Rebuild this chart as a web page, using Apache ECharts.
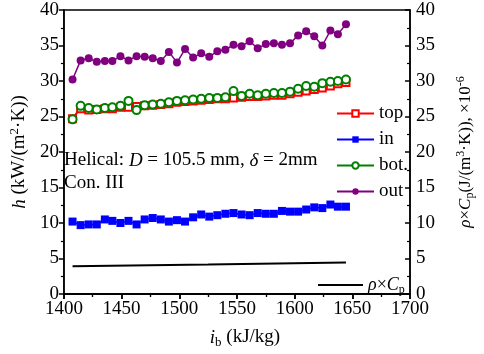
<!DOCTYPE html>
<html>
<head>
<meta charset="utf-8">
<script src="https://cdn.jsdelivr.net/npm/echarts@6/dist/echarts.min.js"></script>
<style>
  html, body { margin: 0; padding: 0; background: #fff; }
  #main { width: 484px; height: 354px; }
</style>
</head>
<body>
<div id="main"></div>
<script>
// enthalpy i_b (kJ/kg), same for all four wall positions
const ib = [1407.5, 1414.5, 1421.5, 1428.5, 1435.5, 1442, 1449, 1456, 1463, 1470,
  1477, 1484, 1491, 1498, 1505, 1512, 1519, 1526, 1533, 1540,
  1547, 1554, 1561, 1568, 1575, 1582, 1589, 1596, 1603, 1610,
  1617, 1624, 1631, 1637.5, 1644.5]

const hTop = [24.7, 26.1, 25.9, 26.0, 26.1, 26.1, 26.3, 26.3, 26.4, 26.5,
  26.6, 26.7, 26.8, 27.0, 27.1, 27.2, 27.3, 27.4, 27.5, 27.5,
  27.6, 27.7, 27.8, 27.8, 27.9, 28.0, 28.0, 28.2, 28.4, 28.6,
  28.8, 29.0, 29.3, 29.6, 29.8]
const hIn = [10.2, 9.7, 9.8, 9.8, 10.5, 10.3, 10.0, 10.3, 9.8, 10.5,
  10.7, 10.5, 10.2, 10.4, 10.2, 10.8, 11.2, 10.9, 11.1, 11.3,
  11.4, 11.2, 11.1, 11.4, 11.3, 11.3, 11.7, 11.6, 11.6, 11.9,
  12.2, 12.1, 12.6, 12.3, 12.3]
const hBot = [24.6, 26.5, 26.2, 26.0, 26.2, 26.3, 26.5, 27.2, 25.9, 26.6,
  26.7, 26.8, 27.0, 27.2, 27.3, 27.4, 27.5, 27.6, 27.6, 27.7,
  28.6, 27.9, 28.2, 28.0, 28.2, 28.3, 28.3, 28.5, 28.9, 29.3,
  29.2, 29.7, 29.9, 30.0, 30.2]
const hOut = [30.2, 32.9, 33.2, 32.7, 32.8, 32.8, 33.5, 32.9, 33.5, 33.4,
  33.2, 32.8, 34.1, 32.6, 34.5, 33.3, 33.9, 33.4, 34.2, 34.4,
  35.1, 34.9, 35.6, 34.6, 35.2, 35.3, 35.1, 35.3, 36.4, 37.0,
  36.3, 35.0, 37.1, 36.6, 38.0]

// rho*Cp (x1e-6), right axis
const ibRho = [1407.5, 1525, 1644.5]
const rhoCp = [3.9, 4.15, 4.45]

const xTicks = [1400, 1450, 1500, 1550, 1600, 1650, 1700]
const yTicks = [0, 5, 10, 15, 20, 25, 30, 35, 40]

const font = "'Liberation Serif', 'Times New Roman', serif"
const pairs = (xs, ys) => xs.map((x, i) => [x, ys[i]])

let myChart = echarts.init(document.getElementById("main"))
myChart.setOption({
  animation: false,
  textStyle: { fontFamily: font, color: "#000" },
  grid: {
    left: 56, right: 68, top: 10, bottom: 55,
    show: true, borderColor: "#000", borderWidth: 1.5,
  },
  legend: [
    {
      orient: "vertical",
      left: 331, top: 99,
      itemWidth: 37, itemHeight: 8, itemGap: 7,
      textStyle: { fontFamily: font, fontSize: 19, color: "#000" },
      data: ["top", "in", "bot.", "out"],
    },
    {
      left: 313, top: 271,
      itemWidth: 45, itemHeight: 2, itemGap: 0,
      textStyle: {
        fontFamily: font, fontSize: 18, color: "#000",
        rich: {
          i: { fontFamily: font, fontSize: 18, fontStyle: "italic" },
          s: { fontFamily: font, fontSize: 12, padding: [10, 0, 0, 0] },
        },
      },
      formatter: () => "{i|ρ}×{i|C}{s|p}",
      data: [{ name: "rho", icon: "rect" }],
    },
  ],
  xAxis: [
    {
      type: "value",
      min: xTicks[0], max: xTicks[xTicks.length - 1], interval: 50,
      name: "{i|i}{s|b} (kJ/kg)",
      nameLocation: "middle", nameGap: 32,
      nameTextStyle: {
        fontFamily: font, fontSize: 19, color: "#000",
        padding: [0, 0, 0, 16],
        rich: {
          i: { fontFamily: font, fontSize: 19, fontStyle: "italic" },
          s: { fontFamily: font, fontSize: 13, padding: [10, 0, 0, 0] },
        },
      },
      axisLine: { onZero: false, lineStyle: { color: "#000", width: 1.5 } },
      axisTick: { inside: false, length: 5, lineStyle: { color: "#000", width: 1.5 } },
      minorTick: { show: true, splitNumber: 2, length: 3, lineStyle: { color: "#000", width: 1.2 } },
      axisLabel: { fontFamily: font, fontSize: 19, color: "#000", margin: 6, formatter: (v) => String(v) },
      splitLine: { show: false },
    },
    {
      type: "value", position: "top",
      min: xTicks[0], max: xTicks[xTicks.length - 1], interval: 50,
      axisLine: { show: true, lineStyle: { color: "#000", width: 1.5 } },
      axisTick: { inside: true, length: 5, lineStyle: { color: "#000", width: 1.5 } },
      minorTick: { show: true, splitNumber: 2, length: 3, lineStyle: { color: "#000", width: 1.2 } },
      axisLabel: { show: false },
      splitLine: { show: false },
    },
  ],
  yAxis: [
    {
      type: "value",
      min: yTicks[0], max: yTicks[yTicks.length - 1], interval: 5,
      name: "{i|h} (kW/(m{sup|2}·K))",
      nameLocation: "middle", nameRotate: 90, nameGap: 32,
      nameTextStyle: {
        fontFamily: font, fontSize: 19, color: "#000",
        rich: {
          i: { fontFamily: font, fontSize: 19, fontStyle: "italic" },
          sup: { fontFamily: font, fontSize: 13, padding: [0, 0, 10, 0] },
        },
      },
      axisLine: { show: true, lineStyle: { color: "#000", width: 1.5 } },
      axisTick: { inside: false, length: 5, lineStyle: { color: "#000", width: 1.5 } },
      minorTick: { show: true, splitNumber: 2, length: 3, lineStyle: { color: "#000", width: 1.2 } },
      axisLabel: { fontFamily: font, fontSize: 19, color: "#000", margin: 5 },
      splitLine: { show: false },
    },
    {
      type: "value", position: "right",
      min: yTicks[0], max: yTicks[yTicks.length - 1], interval: 5,
      name: "{i|ρ}×{i|C}{sub|p}(J/(m{sup|3}·K)), ×10{sup|-6}",
      nameLocation: "middle", nameRotate: 90, nameGap: 45,
      nameTextStyle: {
        fontFamily: font, fontSize: 17, color: "#000",
        rich: {
          i: { fontFamily: font, fontSize: 17, fontStyle: "italic" },
          sub: { fontFamily: font, fontSize: 12, padding: [9, 0, 0, 0] },
          sup: { fontFamily: font, fontSize: 12, padding: [0, 0, 9, 0] },
        },
      },
      axisLine: { show: true, lineStyle: { color: "#000", width: 1.5 } },
      axisTick: { inside: true, length: 5, lineStyle: { color: "#000", width: 1.5 } },
      minorTick: { show: true, splitNumber: 2, length: 3, lineStyle: { color: "#000", width: 1.2 } },
      axisLabel: { fontFamily: font, fontSize: 19, color: "#000", margin: 6 },
      splitLine: { show: false },
    },
  ],
  graphic: [
    {
      type: "text", left: 64, top: 149,
      style: {
        text: "Helical: {i|D} = 105.5 mm, {i|δ} = 2mm\nCon. III",
        fontFamily: font, fontSize: 19, fill: "#000", lineHeight: 23,
        rich: { i: { fontFamily: font, fontSize: 19, fontStyle: "italic", lineHeight: 23 } },
      },
    },
  ],
  series: [
    {
      name: "top", type: "line", data: pairs(ib, hTop),
      symbol: "emptyRect", symbolSize: 7,
      itemStyle: { color: "#ff0000", borderColor: "#ff0000", borderWidth: 1.3 },
      lineStyle: { color: "#ff0000", width: 1.5 },
      emphasis: { disabled: true },
    },
    {
      name: "in", type: "line", data: pairs(ib, hIn),
      symbol: "rect", symbolSize: 8,
      itemStyle: { color: "#0000ff" },
      lineStyle: { color: "#0000ff", width: 1.5 },
      emphasis: { disabled: true },
    },
    {
      name: "bot.", type: "line", data: pairs(ib, hBot),
      symbol: "emptyCircle", symbolSize: 8,
      itemStyle: { color: "#008000", borderColor: "#008000", borderWidth: 1.5 },
      lineStyle: { color: "#008000", width: 1.5 },
      emphasis: { disabled: true },
    },
    {
      name: "out", type: "line", data: pairs(ib, hOut),
      symbol: "circle", symbolSize: 8,
      itemStyle: { color: "#800080" },
      lineStyle: { color: "#800080", width: 1.5 },
      emphasis: { disabled: true },
    },
    {
      name: "rho", type: "line", yAxisIndex: 1, data: pairs(ibRho, rhoCp),
      symbol: "none",
      itemStyle: { color: "#000" },
      lineStyle: { color: "#000", width: 2 },
      emphasis: { disabled: true },
    },
  ],
})

window.addEventListener("resize", () => {
  myChart.resize()
})
</script>
</body>
</html>
